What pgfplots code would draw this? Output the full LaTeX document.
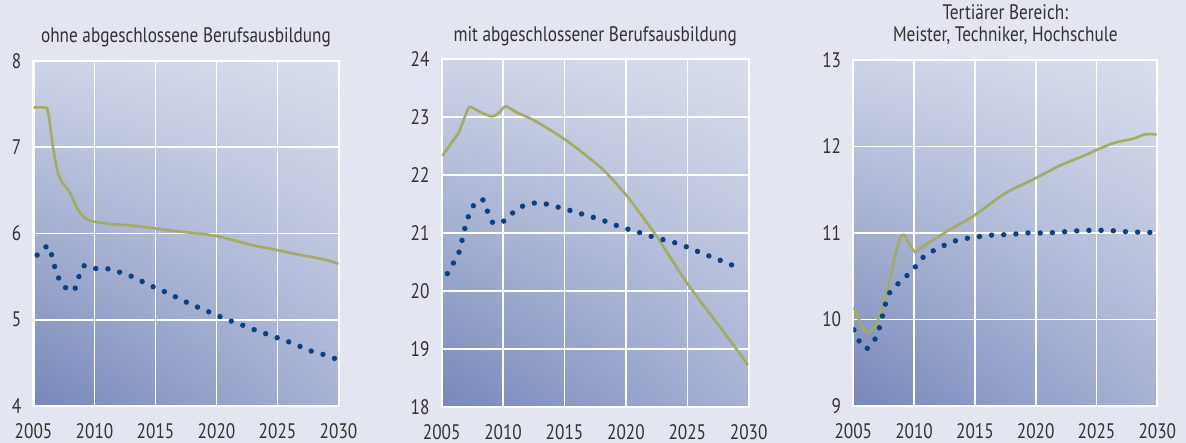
\documentclass[border=0pt]{standalone}
\usepackage{pgfplots}
\pgfplotsset{compat=1.18}
\usepackage{fontspec}
\setmainfont{PT Sans}[FakeStretch=0.82]
\usetikzlibrary{shadings}
\definecolor{bgc}{RGB}{227,229,240}
\definecolor{cll}{RGB}{118,135,185}
\definecolor{clr}{RGB}{167,177,212}
\definecolor{cul}{RGB}{205,211,231}
\definecolor{cur}{RGB}{217,222,236}
\definecolor{olive}{RGB}{164,172,98}
\definecolor{navy}{RGB}{10,64,132}
\definecolor{txt}{RGB}{50,50,50}
\pgfplotsset{
  panel/.style={
    scale only axis,
    xmin=2005, xmax=2030, xtick={2005,2010,...,2030},
    grid=major, major grid style={white, line width=1.6bp},
    axis line style={white, line width=2bp},
    tick style={draw=none},
    /pgf/number format/1000 sep={},
    /pgf/number format/assume math mode=true,
    tick label style={font=\fontsize{21bp}{21bp}\selectfont, text=txt, inner sep=0pt},
    xticklabel style={anchor=north, yshift=-17bp},
    yticklabel style={anchor=east, xshift=-12bp},
    axis background/.style={shade, lower left=cll, lower right=clr, upper left=cul, upper right=cur},
    title style={at={(0.5,1)}, anchor=base, yshift=13bp, inner sep=0pt, font=\fontsize{21bp}{21.6bp}\selectfont, text=txt, align=center},
  },
  green/.style={olive, line width=2.6bp, smooth, no marks},
  dots/.style={navy, line width=5.4bp, smooth, no marks, line cap=round, dash pattern=on 0bp off 12.2bp},
}
\begin{document}
\begin{tikzpicture}
\fill[bgc] (0,0) rectangle (1186bp,443bp);
\begin{axis}[panel, at={(33.5bp,37bp)}, anchor=south west, width=305bp, height=345bp,
  ymin=4, ymax=8, ytick={4,5,6,7,8}, title={ohne abgeschlossene Berufsausbildung}]
\addplot[green] coordinates {(2005.0,7.46) (2005.9,7.46) (2006.2,7.41) (2006.6,7.00) (2007.1,6.66) (2008.0,6.47) (2008.5,6.31) (2009.2,6.18) (2009.9,6.14) (2011.3,6.11) (2013.2,6.09) (2014.9,6.06) (2016.5,6.03) (2017.8,6.01) (2020.0,5.97) (2022.8,5.87) (2024.9,5.81) (2026.9,5.75) (2028.8,5.70) (2030,5.65)};
\addplot[dots] coordinates {(2005.3,5.75) (2005.7,5.82) (2006.3,5.85) (2006.5,5.74) (2006.7,5.63) (2007.0,5.51) (2007.3,5.41) (2008.2,5.33) (2008.6,5.43) (2008.8,5.54) (2009.2,5.63) (2010.2,5.59) (2011.1,5.59) (2012.1,5.55) (2013.1,5.50) (2014.1,5.43) (2015.0,5.37) (2016.0,5.31) (2017.0,5.24) (2017.9,5.18) (2018.9,5.12) (2019.9,5.06) (2020.9,5.00) (2021.9,4.95) (2022.8,4.90) (2023.8,4.85) (2024.8,4.80) (2025.8,4.75) (2026.7,4.70) (2027.7,4.64) (2028.7,4.60) (2029.7,4.55)};
\end{axis}
\begin{axis}[panel, at={(441.7bp,36bp)}, anchor=south west, width=307bp, height=348bp,
  ymin=18, ymax=24, ytick={18,...,24}, title={mit abgeschlossener Berufsausbildung}, title style={yshift=-1bp}]
\addplot[green] coordinates {(2005.05,22.33) (2005.95,22.60) (2006.36,22.72) (2006.9,23.01) (2007.17,23.15) (2007.4,23.17) (2008.1,23.09) (2009.07,23.01) (2009.6,23.06) (2010.07,23.17) (2010.4,23.17) (2011.1,23.08) (2012.46,22.95) (2013.8,22.78) (2014.98,22.62) (2016.5,22.38) (2018.15,22.09) (2020.0,21.66) (2021.7,21.18) (2022.6,20.91) (2023.85,20.50) (2025.0,20.13) (2026.5,19.70) (2028.0,19.28) (2029.0,19.00) (2029.95,18.72)};
\addplot[dots] coordinates {(2005.46,20.30) (2005.95,20.48) (2006.41,20.67) (2006.63,20.85) (2006.84,21.04) (2007.06,21.22) (2007.36,21.38) (2007.71,21.51) (2008.31,21.58) (2008.61,21.44) (2008.88,21.29) (2009.28,21.16) (2010.2,21.22) (2010.67,21.32) (2011.16,21.42) (2012.1,21.50) (2013.05,21.52) (2014.0,21.47) (2014.95,21.42) (2015.9,21.36) (2016.85,21.30) (2017.8,21.24) (2018.75,21.17) (2019.72,21.09) (2020.67,21.04) (2021.62,20.97) (2022.57,20.91) (2023.5,20.86) (2024.47,20.80) (2025.4,20.72) (2026.35,20.64) (2027.3,20.56) (2028.27,20.48) (2029.25,20.39)};
\end{axis}
\begin{axis}[panel, at={(853.3bp,37bp)}, anchor=south west, width=304bp, height=346bp,
  ymin=9, ymax=13, ytick={9,...,13}, title={Tertiärer Bereich:\\Meister, Techniker, Hochschule}]
\addplot[green] coordinates {(2005.0,10.14) (2005.14,10.11) (2005.55,9.975) (2006.0,9.86) (2006.37,9.86) (2006.86,9.94) (2007.33,10.11) (2007.88,10.38) (2008.43,10.73) (2008.84,10.94) (2009.17,10.98) (2009.5,10.90) (2010.07,10.78) (2010.48,10.82) (2011.58,10.92) (2012.95,11.04) (2014.92,11.20) (2017.06,11.42) (2018.16,11.51) (2019.94,11.63) (2022.0,11.78) (2023.9,11.89) (2025.0,11.96) (2026.4,12.04) (2028.0,12.09) (2029.0,12.14) (2029.94,12.14)};
\addplot[dots] coordinates {(2005.05,9.88) (2005.44,9.76) (2006.0,9.66) (2006.6,9.73) (2007.0,9.84) (2007.25,9.96) (2007.47,10.08) (2007.69,10.20) (2007.99,10.31) (2008.48,10.39) (2009.0,10.45) (2009.5,10.52) (2010.0,10.59) (2010.43,10.67) (2010.98,10.75) (2011.96,10.82) (2012.98,10.89) (2013.96,10.93) (2014.95,10.95) (2015.96,10.97) (2016.95,10.98) (2017.94,10.98) (2018.95,11.00) (2019.94,11.00) (2020.95,11.00) (2021.94,11.01) (2022.96,11.02) (2023.94,11.03) (2024.96,11.03) (2025.94,11.03) (2026.96,11.02) (2027.94,11.01) (2028.96,11.01) (2029.94,11.00)};
\end{axis}
\pgfresetboundingbox
\useasboundingbox (0,0) rectangle (1186bp,443bp);
\end{tikzpicture}
\end{document}
